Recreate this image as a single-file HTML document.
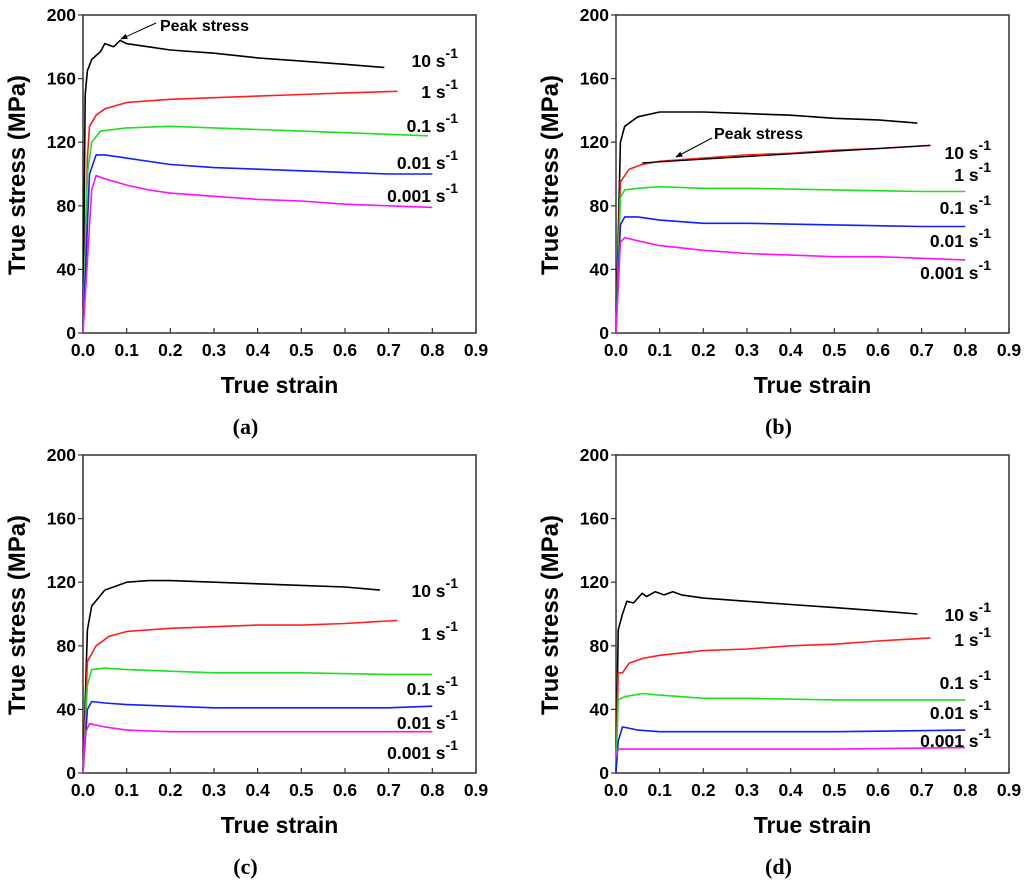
<!DOCTYPE html>
<html><head><meta charset="utf-8"><style>
html,body{margin:0;padding:0;background:#fff;}
svg text{font-family:"Liberation Sans",Arial,sans-serif;font-weight:bold;}
</style></head><body>
<svg id="fig" width="1024" height="880" xmlns="http://www.w3.org/2000/svg">
<defs><marker id="arr" viewBox="0 0 10 10" refX="9" refY="5" markerWidth="7" markerHeight="7" orient="auto"><path d="M0,1 L10,5 L0,9 z" fill="#000"/></marker></defs>
</svg>
<script>
const xTicks = [0,0.1,0.2,0.3,0.4,0.5,0.6,0.7,0.8,0.9];
const yTicks = [0,40,80,120,160,200];
const rateLabels = ["10","1","0.1","0.01","0.001"];
const colors = ["#000000","#ff2020","#20e020","#1020ff","#ff10ff"];

const a10 = [[0,0],[0.005,150],[0.01,165],[0.02,172],[0.04,177],[0.05,182],[0.07,180],[0.085,184],[0.1,182],[0.15,180],[0.2,178],[0.3,176],[0.4,173],[0.5,171],[0.6,169],[0.69,167]];
const a1 = [[0,0],[0.01,110],[0.015,130],[0.03,137],[0.05,141],[0.1,145],[0.2,147],[0.3,148],[0.4,149],[0.5,150],[0.6,151],[0.72,152]];
const a01 = [[0,0],[0.01,100],[0.02,120],[0.04,127],[0.1,129],[0.2,130],[0.3,129],[0.4,128],[0.5,127],[0.6,126],[0.7,125],[0.79,124]];
const a001 = [[0,0],[0.015,100],[0.03,112],[0.05,112],[0.1,110],[0.2,106],[0.3,104],[0.4,103],[0.5,102],[0.6,101],[0.7,100],[0.8,100]];
const a0001 = [[0,0],[0.02,90],[0.03,99],[0.05,97],[0.1,93],[0.15,90],[0.2,88],[0.3,86],[0.4,84],[0.5,83],[0.6,81],[0.7,80],[0.8,79]];

const b10 = [[0,0],[0.01,120],[0.02,130],[0.05,136],[0.1,139],[0.2,139],[0.3,138],[0.4,137],[0.5,135],[0.6,134],[0.69,132]];
const b1 = [[0,0],[0.01,95],[0.03,103],[0.06,106],[0.1,108],[0.2,110],[0.3,112],[0.4,113],[0.5,115],[0.6,116],[0.72,118]];
const b01 = [[0,0],[0.01,85],[0.02,90],[0.05,91],[0.1,92],[0.2,91],[0.3,91],[0.5,90],[0.7,89],[0.8,89]];
const b001 = [[0,0],[0.01,68],[0.02,73],[0.05,73],[0.1,71],[0.2,69],[0.3,69],[0.5,68],[0.7,67],[0.8,67]];
const b0001 = [[0,0],[0.01,57],[0.02,60],[0.05,58],[0.1,55],[0.2,52],[0.3,50],[0.4,49],[0.5,48],[0.6,48],[0.7,47],[0.8,46]];
const bPeakLine = [[0.06,107],[0.72,118]];

const c10 = [[0,0],[0.01,90],[0.02,105],[0.05,115],[0.1,120],[0.15,121],[0.2,121],[0.3,120],[0.4,119],[0.5,118],[0.6,117],[0.68,115]];
const c1 = [[0,0],[0.01,70],[0.03,80],[0.06,86],[0.1,89],[0.2,91],[0.3,92],[0.4,93],[0.5,93],[0.6,94],[0.72,96]];
const c01 = [[0,0],[0.01,55],[0.02,65],[0.05,66],[0.1,65],[0.2,64],[0.3,63],[0.5,63],[0.7,62],[0.8,62]];
const c001 = [[0,0],[0.01,40],[0.02,45],[0.05,44],[0.1,43],[0.2,42],[0.3,41],[0.5,41],[0.7,41],[0.8,42]];
const c0001 = [[0,0],[0.005,25],[0.015,31],[0.05,29],[0.1,27],[0.2,26],[0.4,26],[0.6,26],[0.8,26]];

const d10 = [[0,0],[0.005,90],[0.015,100],[0.025,108],[0.04,107],[0.06,113],[0.07,111],[0.09,114],[0.11,112],[0.13,114],[0.15,112],[0.2,110],[0.3,108],[0.4,106],[0.5,104],[0.6,102],[0.69,100]];
const d1 = [[0,0],[0.005,63],[0.015,63],[0.03,69],[0.06,72],[0.1,74],[0.2,77],[0.3,78],[0.4,80],[0.5,81],[0.6,83],[0.72,85]];
const d01 = [[0,0],[0.005,46],[0.02,48],[0.06,50],[0.1,49],[0.2,47],[0.3,47],[0.5,46],[0.7,46],[0.8,46]];
const d001 = [[0,0],[0.005,20],[0.015,29],[0.05,27],[0.1,26],[0.3,26],[0.5,26],[0.8,27]];
const d0001 = [[0,10],[0.005,15],[0.05,15],[0.3,15],[0.5,15],[0.8,16]];

const NS = "http://www.w3.org/2000/svg";
const svg = document.getElementById("fig");
function mk(tag, attrs, parent, txt){
  const e = document.createElementNS(NS, tag);
  for (const k in attrs) e.setAttribute(k, attrs[k]);
  if (txt !== undefined) e.textContent = txt;
  parent.appendChild(e);
  return e;
}
const W = 393, H = 318;
const panels = [
  {id:"a", L:83, T:15, series:[a10,a1,a01,a001,a0001], labelY:[60,91,125,162,195]},
  {id:"b", L:616, T:15, series:[b10,b1,b01,b001,b0001], labelY:[152,174,207,240,272]},
  {id:"c", L:83, T:455, series:[c10,c1,c01,c001,c0001], labelY:[590,633,688,722,752]},
  {id:"d", L:616, T:455, series:[d10,d1,d01,d001,d0001], labelY:[614,639,682,712,740]}
];
panels.forEach(p => {
  const sx = v => p.L + v / 0.9 * W;
  const sy = v => p.T + H - v / 200 * H;
  const g = mk("g", {}, svg);
  
  
  const frame = mk("rect", {x:p.L, y:p.T, width:W, height:H, fill:"none", stroke:"#333", "stroke-width":1.5}, g);
  
  
  xTicks.forEach(t => {
    mk("line", {x1:sx(t), x2:sx(t), y1:p.T+H, y2:p.T+H-5, stroke:"#333", "stroke-width":1.2}, g);
    const tl = mk("text", {x:sx(t), y:p.T+H+23, "text-anchor":"middle", "font-size":17.5}, g, t.toFixed(1));
    
    
  });
  yTicks.forEach(t => {
    mk("line", {x1:p.L-5, x2:p.L, y1:sy(t), y2:sy(t), stroke:"#333", "stroke-width":1.2}, g);
    const tl = mk("text", {x:p.L-7, y:sy(t)+6, "text-anchor":"end", "font-size":17.5}, g, String(t));
    
    
  });
  const xt = mk("text", {x:p.L+W/2, y:p.T+H+60, "text-anchor":"middle", "font-size":23}, g, "True strain");
  
  
  const cx = p.L - 58, cy = p.T + H/2 + 1;
  const yt = mk("text", {x:cx, y:cy, "text-anchor":"middle", "font-size":24, transform:"rotate(-90 "+cx+" "+cy+")"}, g, "True stress (MPa)");
  
  
  const cap = mk("text", {x:p.L+W/2-34, y:p.T+H+101, "text-anchor":"middle", "font-size":22, style:"font-family:'Liberation Serif',serif;font-weight:bold"}, g);
  
  
  cap.innerHTML = '(<tspan font-weight="bold">' + p.id + '</tspan>)';
  p.series.forEach((s, i) => {
    const pl = mk("polyline", {points:s.map(q => sx(q[0]).toFixed(1)+","+sy(q[1]).toFixed(1)).join(" "), fill:"none", stroke:colors[i], "stroke-width":1.6, "stroke-linejoin":"round"}, g);
    
    
    const lb = mk("text", {x:p.L+W-18, y:p.labelY[i]+7, "text-anchor":"end", "font-size":17.5}, g);
    
    
    lb.innerHTML = rateLabels[i] + ' s<tspan dy="-9" font-size="14">-1</tspan>';
  });
  if (p.id === "a") {
    const pk = mk("text", {x:160, y:31, "font-size":16}, g, "Peak stress");
    
    
    const ar = mk("line", {x1:156, y1:23, x2:121, y2:39, stroke:"#000", "stroke-width":1, "marker-end":"url(#arr)"}, g);
    
    
  }
  if (p.id === "b") {
    const ln = mk("line", {x1:sx(bPeakLine[0][0]), y1:sy(bPeakLine[0][1]), x2:sx(bPeakLine[1][0]), y2:sy(bPeakLine[1][1]), stroke:"#000", "stroke-width":1.3}, g);
    
    
    const pk = mk("text", {x:714, y:139, "font-size":16}, g, "Peak stress");
    
    
    const ar = mk("line", {x1:712, y1:138, x2:676, y2:157, stroke:"#000", "stroke-width":1, "marker-end":"url(#arr)"}, g);
    
    
  }
});
</script>
</body></html>
